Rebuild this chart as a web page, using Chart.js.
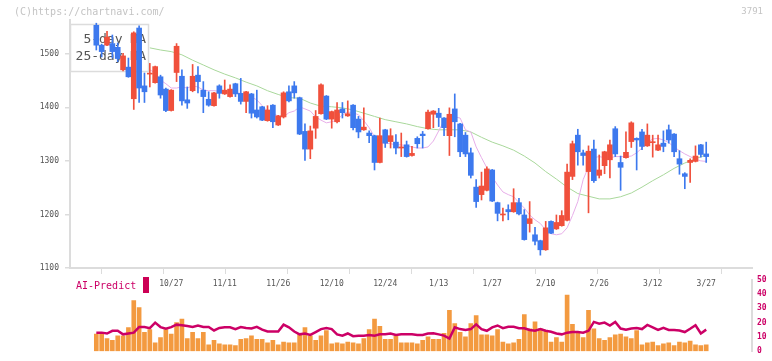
<!DOCTYPE html>
<html><head><meta charset="utf-8">
<script src="https://cdn.jsdelivr.net/npm/chart.js@4.4.1/dist/chart.umd.min.js"></script>
<style>
html,body{margin:0;padding:0;background:#fff;}
#wrap{position:relative;width:772px;height:361px;overflow:hidden;background:#fff;font-family:"DejaVu Sans Mono",monospace;}
canvas{position:absolute;left:0;}
.t{position:absolute;white-space:pre;line-height:1;font-family:"DejaVu Sans Mono",monospace;}
</style></head><body>
<div id="wrap">
<canvas id="main" width="772" height="295" style="top:0"></canvas>
<canvas id="sub" width="772" height="91" style="top:270px"></canvas>
<div class="t" style="left:14px;top:7px;font-size:10px;color:#c4c4c4">(C)https://chartnavi.com/</div>
<div class="t" style="right:9px;top:7px;font-size:9px;color:#c4c4c4">3791</div>
<div class="t" style="left:76px;top:281px;font-size:10px;color:#cc0066">AI-Predict</div>
<div style="position:absolute;left:143px;top:277px;width:6px;height:16px;background:#cc0055"></div>
</div>
<script>
// ---- data ----
const dates = ['10/27','11/11','11/26','12/10','12/24','1/13','1/27','2/10','2/26','3/12','3/27'];
const dateIdx = [14,24,34,44,54,64,74,84,94,104,114];
const yTicks = [1100,1200,1300,1400,1500];
const subTicks = [0,10,20,30,40,50];
const tickMarks = [0,1,2,3,4,5,6,7,8,9,10,11];

const open = [1553,1516,1516,1519,1512,1470,1475,1416,1548,1440,1462,1446,1457,1434,1394,1465,1458,1414,1431,1460,
1432,1415,1403,1440,1425,1420,1444,1426,1411,1425,1395,1401,1375,1404,1367,1382,1429,1440,1418,1355,
1322,1361,1388,1421,1378,1373,1397,1384,1404,1378,1358,1352,1347,1297,1358,1336,1335,1324,1330,1310,
1342,1350,1360,1387,1389,1380,1347,1397,1369,1348,1315,1251,1237,1245,1283,1222,1199,1209,1205,1222,
1199,1183,1162,1151,1134,1187,1173,1179,1189,1271,1348,1315,1280,1322,1273,1291,1302,1360,1297,1306,
1336,1342,1354,1328,1334,1320,1333,1358,1350,1304,1276,1297,1299,1330,1313];
const close = [1516,1504,1531,1504,1491,1496,1457,1539,1436,1429,1463,1476,1423,1394,1432,1514,1412,1408,1458,1448,
1420,1404,1427,1426,1432,1434,1425,1411,1429,1389,1382,1376,1395,1373,1384,1427,1412,1427,1350,1322,
1356,1383,1442,1378,1392,1395,1390,1388,1362,1354,1363,1347,1297,1347,1333,1347,1324,1326,1308,1314,
1332,1347,1391,1393,1381,1362,1387,1373,1317,1313,1273,1224,1253,1285,1225,1202,1200,1205,1222,1201,
1153,1192,1150,1134,1175,1165,1185,1198,1279,1332,1317,1310,1318,1263,1283,1317,1330,1313,1288,1316,
1371,1339,1327,1348,1335,1330,1327,1339,1317,1294,1271,1301,1309,1312,1308];
const high = [1557,1518,1542,1535,1520,1501,1492,1541,1552,1464,1482,1477,1460,1436,1433,1519,1470,1438,1480,1476,
1448,1429,1428,1442,1451,1442,1445,1454,1430,1426,1432,1402,1403,1405,1385,1429,1440,1448,1419,1369,
1365,1394,1444,1422,1393,1409,1409,1412,1405,1383,1399,1356,1348,1380,1359,1360,1349,1352,1337,1327,
1345,1355,1395,1394,1398,1381,1399,1425,1370,1353,1324,1265,1279,1289,1284,1223,1212,1218,1248,1230,
1209,1224,1176,1152,1187,1188,1199,1207,1294,1337,1359,1320,1328,1339,1311,1318,1339,1364,1309,1354,
1373,1343,1359,1369,1348,1348,1356,1367,1351,1319,1278,1304,1328,1331,1335];
const low = [1507,1494,1515,1492,1485,1468,1456,1396,1409,1409,1438,1445,1417,1392,1393,1448,1404,1398,1429,1427,
1390,1402,1402,1417,1424,1419,1420,1406,1390,1380,1380,1375,1374,1362,1366,1380,1410,1417,1349,1301,
1304,1342,1387,1377,1361,1371,1380,1383,1358,1343,1357,1334,1283,1296,1325,1324,1313,1308,1307,1309,
1324,1324,1359,1362,1364,1347,1310,1345,1308,1308,1268,1213,1227,1244,1224,1188,1188,1190,1204,1199,
1152,1167,1143,1124,1133,1164,1172,1178,1188,1265,1292,1292,1203,1260,1268,1276,1268,1308,1245,1305,
1325,1283,1321,1327,1307,1319,1317,1333,1308,1275,1248,1260,1298,1307,1297];

const ma5Start = 10;
const ma5 = [1470,1464,1451,1444,1436,1436,1438,1436,1440,1438,1432,1431,1431,1430,1429,1428,1427,1426,1424,1419,
1414,1403,1393,1388,1384,1382,1390,1393,1401,1397,1393,1382,1376,1371,1373,1376,1386,1391,1390,1386,
1375,1362,1345,1335,1333,1332,1330,1330,1328,1326,1324,1324,1326,1337,1356,1375,1382,1382,1380,1358,
1354,1326,1306,1287,1270,1255,1242,1237,1233,1222,1212,1199,1190,1183,1171,1164,1162,1164,1175,1198,
1224,1265,1289,1306,1308,1306,1306,1308,1308,1308,1309,1315,1324,1334,1341,1342,1339,1334,1326,1319,
1313,1308,1303,1300,1299];
const ma25Idx = [10,12,14,16,18,20,22,24,26,28,30,32,34,36,38,40,42,44,46,48,50,52,54,56,58,60,62,64,66,68,
70,72,74,76,78,80,82,84,86,88,90,92,94,96,98,100,102,104,106,108,110,112,114];
const ma25 = [1511,1507,1504,1498,1488,1479,1470,1462,1455,1447,1440,1431,1424,1418,1417,1408,1402,1401,1399,1395,
1389,1383,1377,1373,1369,1364,1360,1358,1358,1358,1354,1344,1335,1328,1320,1309,1296,1280,1266,1251,
1239,1234,1229,1229,1233,1240,1251,1263,1274,1286,1296,1304,1311];

const volume = [12,12,8.9,7.6,10.7,10.7,16.5,35.5,30.6,13.2,15.1,5.8,9.5,15.1,12,20,22.5,8.9,13.2,8.9,
13.2,4.5,7.6,5.2,4.5,4.5,3.9,8.3,8.9,10.7,8.3,8.3,5.8,7.6,4.5,6.4,5.8,5.8,12.6,16.5,
10.7,7.6,10.7,14.5,5.2,5.8,5.2,6.4,5.8,5.2,8.9,15.1,22.5,17.5,8.3,8.3,10.7,5.8,5.8,5.8,
5.2,7.6,10.1,8.3,8.3,12.6,28.7,19.4,13.2,10.1,19.4,25,11.4,11.4,10.7,15.1,6.4,5.2,5.8,8.3,
25.6,15.7,20.6,15.7,14.5,6.4,9.5,6.4,39.3,18.8,13.2,9.5,28.7,15.7,8.9,7.6,9.5,11.4,12,10.1,
8.9,14.5,4.5,5.8,6.4,3.9,5.2,5.8,3.9,6.4,5.8,7,4.5,3.9,4.5];
const aiPredict = [13,13,12.4,14.3,14.3,11.8,12.4,13,16.9,16.9,16.1,20,16.9,15.7,16.9,18.6,18.2,17.6,16.9,18,
16.9,16.9,14.5,16.3,16.7,16.7,15.5,16.9,16.3,15.9,17.1,15.1,13.8,13.8,13.8,18.6,16.7,13.8,11.8,12.4,
11.4,13.4,15.5,16.3,15.5,11.8,10.9,12.4,10.5,10.9,10.9,11.4,10.9,11.8,11.8,12.4,11.4,11.8,11.8,11.8,
11.4,11.4,12.4,12.6,11.8,10.9,8.9,16.7,15.5,14.9,15.5,18.8,15.5,14.3,16.7,18,16.1,17.1,17.1,16.1,
16.1,14.9,14.3,15.5,14.3,13.6,12.4,11.8,13,13.4,13.4,13,14.3,20.5,19.2,20,18,20.5,15.9,15.1,
15.9,16.3,15.5,18.4,16.7,14.9,16.3,14.9,14.9,14.5,13.4,15.7,18.2,12.4,15.1];

// ---- build ----
const UP = '#F0503C', DOWN = '#3D79EE';
const idx = close.map((_, i) => i);
const col = idx.map(i => close[i] >= open[i] ? UP : DOWN);
const X_MIN = -4.92, X_MAX = 122.56;
const F8 = {family:'"DejaVu Sans Mono", monospace', size:8};

const legendBox = {
  id:'legendBox',
  beforeDatasetsDraw(chart){
    const ctx = chart.ctx, a = chart.chartArea;
    ctx.save();
    ctx.fillStyle = '#fff';
    ctx.fillRect(a.left, a.top + 4, 78, 47);
    ctx.strokeStyle = '#dcdcdc'; ctx.lineWidth = 1.5;
    ctx.strokeRect(a.left + 0.5, a.top + 4.5, 78, 47);
    ctx.fillStyle = '#555';
    ctx.font = '13px "DejaVu Sans Mono", monospace';
    ctx.textAlign = 'right'; ctx.textBaseline = 'middle';
    ctx.fillText('5-day MA', a.left + 76, a.top + 20);
    ctx.fillText('25-day MA', a.left + 76, a.top + 37);
    ctx.restore();
  }
};

new Chart(document.getElementById('main'), {
  type:'bar',
  data:{datasets:[
    {type:'line', label:'25-day MA', data: ma25Idx.map((x,k)=>({x, y:ma25[k]})), borderColor:'#A9D89B', borderWidth:1, pointRadius:0, tension:0, order:4},
    {type:'line', label:'5-day MA', data: ma5.map((y,k)=>({x:ma5Start+k, y})), borderColor:'#E7AEE9', borderWidth:1, pointRadius:0, tension:0, order:3},
    {label:'wick', data: idx.map(i=>({x:i, y:[low[i], high[i]]})), backgroundColor: col, barThickness:1, grouped:false, order:2},
    {label:'body', data: idx.map(i=>({x:i, y:[open[i], close[i]]})), backgroundColor: col, barThickness:5, minBarLength:1, grouped:false, order:1}
  ]},
  options:{
    responsive:false, animation:false, devicePixelRatio:1,
    layout:{padding:{top:20, right:20, left:0, bottom:0}},
    plugins:{legend:{display:false}, tooltip:{enabled:false}},
    scales:{
      x:{type:'linear', min:X_MIN, max:X_MAX, weight:1, position:'bottom', offset:false,
        grid:{display:false, drawTicks:false, offset:false}, border:{display:false},
        afterBuildTicks: s => { s.ticks = dateIdx.map(v=>({value:v})); },
        afterFit: s => { s.height = 21; },
        ticks:{autoSkip:false, maxRotation:0, padding:5, font:F8, color:'#555', callback: v => dates[dateIdx.indexOf(v)]}},
      xt:{type:'linear', min:0, max:11, weight:0, position:'bottom', offset:false,
        afterBuildTicks: s => { s.ticks = tickMarks.map(v=>({value:v})); },
        afterFit: s => { s.height = 6; },
        grid:{drawOnChartArea:false, color:'#dcdcdc', tickLength:6, lineWidth:1},
        border:{display:true, color:'#dcdcdc', width:2},
        ticks:{display:false}},
      y:{type:'linear', position:'left', min:1100, max:1563,
        afterBuildTicks: s => { s.ticks = yTicks.map(v=>({value:v})); },
        afterFit: s => { s.width = 70; },
        grid:{drawOnChartArea:false, color:'#dcdcdc', tickLength:5, lineWidth:1.5},
        border:{display:true, color:'#dcdcdc', width:2},
        ticks:{padding:6, font:F8, color:'#555', callback: v => String(v)}}
    }
  },
  plugins:[legendBox]
});

new Chart(document.getElementById('sub'), {
  type:'bar',
  data:{datasets:[
    {type:'line', label:'AI-Predict', data: idx.map(i=>({x:i, y:aiPredict[i]})), borderColor:'#CC0066', borderWidth:2.5, pointRadius:0, tension:0, order:1},
    {label:'volume', data: idx.map(i=>({x:i, y:volume[i]})), backgroundColor:'#F39A40', barThickness:4, grouped:false, order:2}
  ]},
  options:{
    responsive:false, animation:false, devicePixelRatio:1,
    layout:{padding:{left:70, top:8, bottom:2.7, right:0}},
    plugins:{legend:{display:false}, tooltip:{enabled:false}},
    scales:{
      x:{type:'linear', min:X_MIN, max:X_MAX, display:false, offset:false},
      y:{type:'linear', position:'right', min:0, max:50,
        afterBuildTicks: s => { s.ticks = subTicks.map(v=>({value:v})); },
        afterFit: s => { s.width = 20; },
        grid:{display:false, drawTicks:false},
        border:{display:true, color:'#dcdcdc', width:2},
        ticks:{padding:5, color:'#CC0066', font:{family:'"DejaVu Sans Mono", monospace', size:8, weight:'bold'}, callback: v => String(v)}}
    }
  }
});
</script>
</body></html>
